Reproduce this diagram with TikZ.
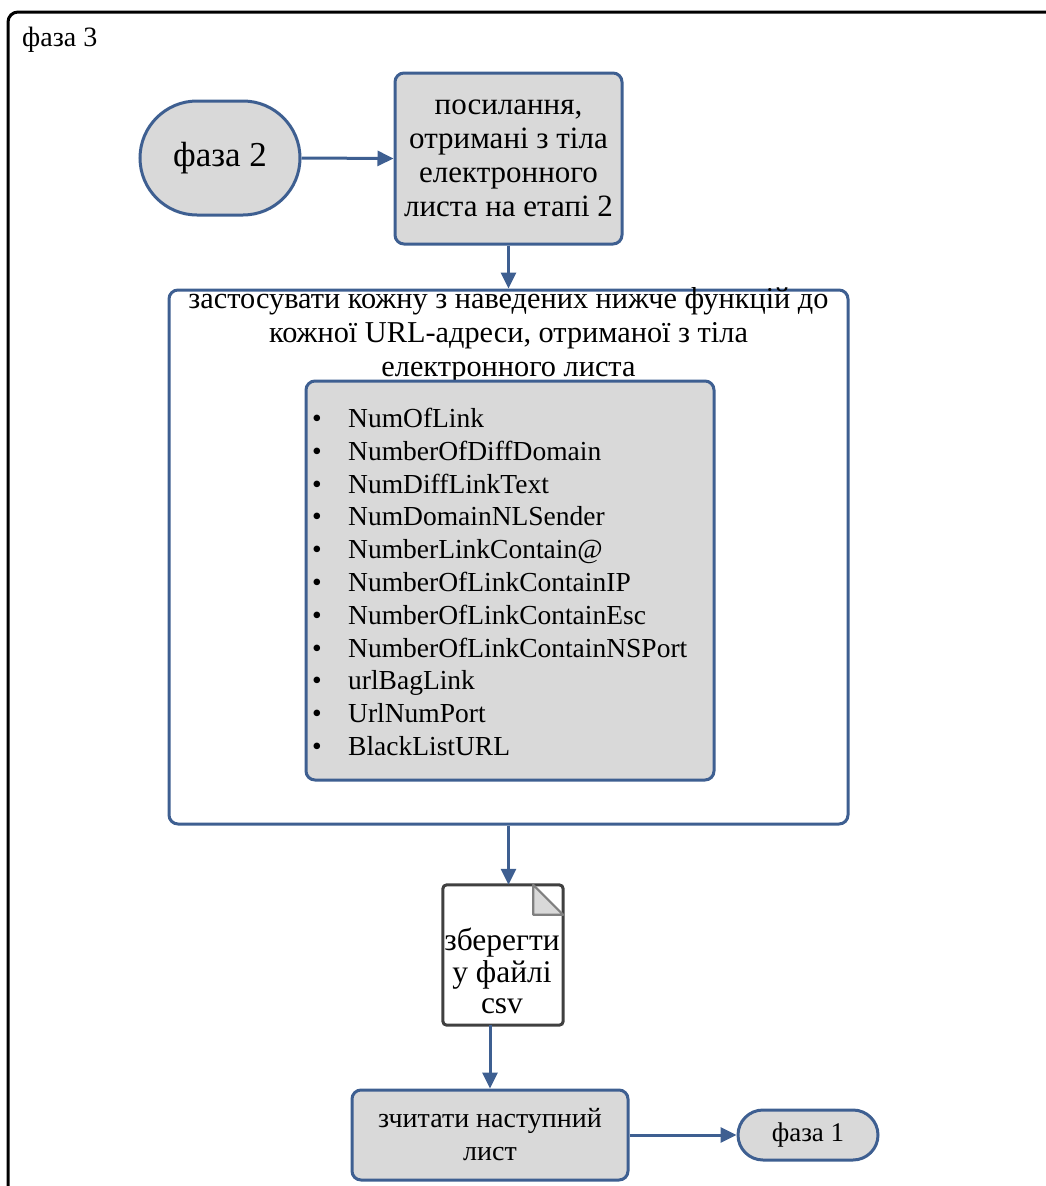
\documentclass[tikz,border=0pt]{standalone}
\usepackage{fontspec}
\setmainfont{Liberation Serif}
\usetikzlibrary{arrows.meta}
\definecolor{boxfill}{RGB}{217,217,217}
\definecolor{bluel}{RGB}{62,95,145}
\definecolor{docline}{RGB}{64,64,64}
\tikzset{
  base/.style={line width=3pt, draw=bluel, align=center, inner sep=0pt},
  graybox/.style={base, fill=boxfill, rounded corners=9pt},
  whitebox/.style={base, fill=white, rounded corners=9pt},
  term/.style={base, fill=boxfill},
  conn/.style={line width=3pt, draw=bluel, -{Triangle[length=16pt,width=15pt]}},
}
\begin{document}
\begin{tikzpicture}[x=1pt,y=-1pt]
\useasboundingbox (0,0) rectangle (1046,1186);
% outer frame (cropped)
\draw[line width=3pt, black, rounded corners=10pt] (8,1200) -- (8,12) -- (1060,12);
\node[anchor=base west, inner sep=0pt, font=\fontsize{28}{32}\selectfont] (ph3) at (22,46) {фаза 3};

\node[term, rounded corners=57pt, minimum width=160pt, minimum height=114pt, font=\fontsize{35}{38}\selectfont] (ph2) at (220,158) {фаза 2};
\node[graybox, minimum width=227pt, minimum height=171pt, font=\fontsize{31}{34}\selectfont] (links) at (508.5,158.5)
  {посилання,\\отримані з тіла\\електронного\\листа на етапі 2};

\node[whitebox, minimum width=679pt, minimum height=534pt] (big) at (508.5,557) {};
\node[inner sep=0pt, align=center, font=\fontsize{30.3}{34}\selectfont] (title) at (508.5,335)
  {застосувати кожну з наведених нижче функцій до\\кожної URL-адреси, отриманої з тіла\\електронного листа};
\node[graybox, minimum width=408pt, minimum height=399pt] (inner) at (510,580.5) {};
\node[anchor=west, inner sep=0pt, align=left, font=\fontsize{27.5}{32.8}\selectfont] (list) at (312,582)
  {\makebox[36pt][l]{•}NumOfLink\\
   \makebox[36pt][l]{•}NumberOfDiffDomain\\
   \makebox[36pt][l]{•}NumDiffLinkText\\
   \makebox[36pt][l]{•}NumDomainNLSender\\
   \makebox[36pt][l]{•}NumberLinkContain@\\
   \makebox[36pt][l]{•}NumberOfLinkContainIP\\
   \makebox[36pt][l]{•}NumberOfLinkContainEsc\\
   \makebox[36pt][l]{•}NumberOfLinkContainNSPort\\
   \makebox[36pt][l]{•}urlBagLink\\
   \makebox[36pt][l]{•}UrlNumPort\\
   \makebox[36pt][l]{•}BlackListURL};

% document shape
\node[inner sep=0pt, minimum width=120pt, minimum height=140pt] (doc) at (503,955) {};
\draw[line width=3pt, draw=docline, fill=white, rounded corners=4pt] (doc.north west) rectangle (doc.south east);
\node[inner sep=0pt, align=center, font=\fontsize{31.5}{31.5}\selectfont] (doctext) at (502,971)
  {зберегти\\у файлі\\csv};
\draw[line width=2.2pt, draw=gray, fill=boxfill, line join=round]
  ([xshift=-30pt]doc.north east) -- ([xshift=-30pt,yshift=-30pt]doc.north east) -- ([yshift=-30pt]doc.north east) -- cycle;

\node[graybox, minimum width=276pt, minimum height=90pt, font=\fontsize{28}{33}\selectfont] (read) at (490,1135)
  {зчитати наступний\\лист};
\node[term, rounded corners=25pt, minimum width=140pt, minimum height=50pt, font=\fontsize{27}{30}\selectfont] (ph1) at (808,1135) {фаза 1};

% connectors
\draw[conn] (ph2.east) -- (links.west);
\draw[conn] (links.south) -- (big.north);
\draw[conn] (big.south) -- (doc.north -| big.south);
\draw[conn] (doc.south -| read.north) -- (read.north);
\draw[conn] (read.east) -- (ph1.west);
\end{tikzpicture}
\end{document}
